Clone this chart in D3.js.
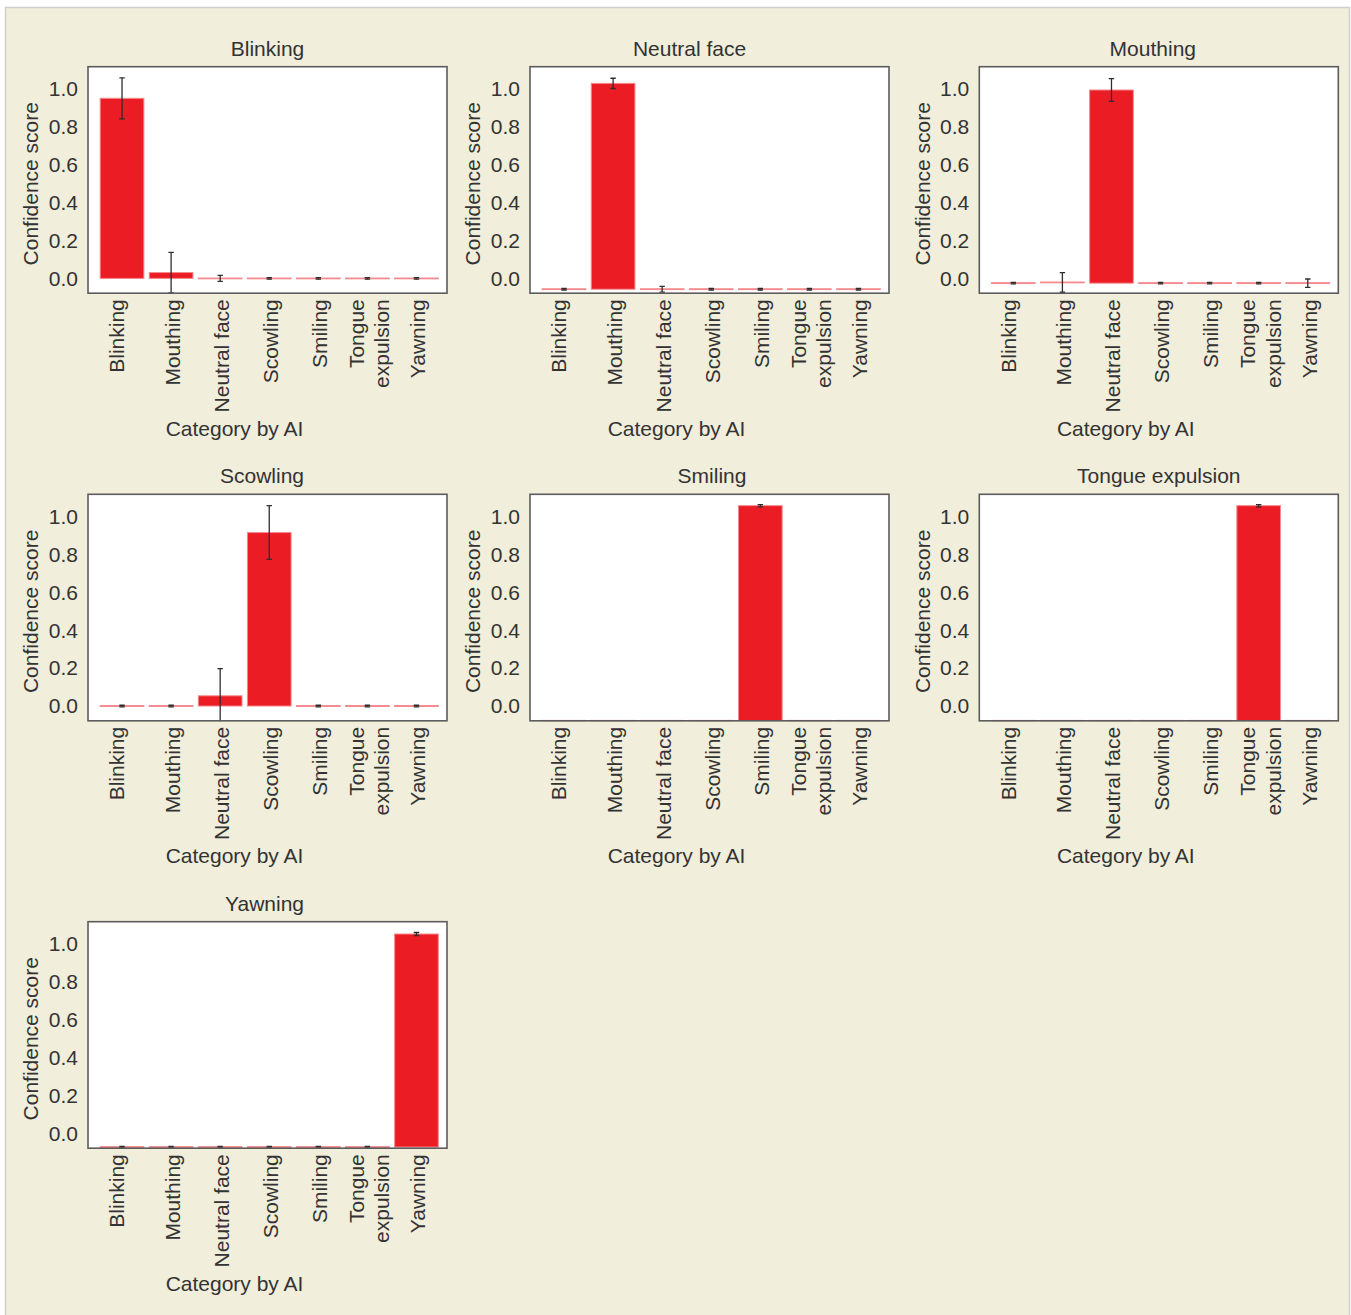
<!DOCTYPE html>
<html>
<head>
<meta charset="utf-8">
<script src="https://cdn.jsdelivr.net/npm/d3@7"></script>
<style>
  body { margin: 0; background: #ffffff; }
  svg { display: block; }
  text { font-family: "Liberation Sans", Arial, Helvetica, sans-serif; }
</style>
</head>
<body>
<svg id="chart" width="1351" height="1315"></svg>
<script>
// Categories predicted by the AI (x axis of every panel)
const categories = ["Blinking", "Mouthing", "Neutral face", "Scowling", "Smiling", "Tongue expulsion", "Yawning"];
const tickLabelLines = [["Blinking"], ["Mouthing"], ["Neutral face"], ["Scowling"], ["Smiling"], ["Tongue", "expulsion"], ["Yawning"]];

// True category of each panel
const panelTitles = ["Blinking", "Neutral face", "Mouthing", "Scowling", "Smiling", "Tongue expulsion", "Yawning"];

// Mean confidence score per AI category, one array per panel
const blinkingScores    = [0.951, 0.031, 0, 0, 0, 0, 0];
const neutralScores     = [-0.057, 1.030, -0.057, -0.057, -0.057, -0.057, -0.057];
const mouthingScores    = [-0.025, -0.021, 0.995, -0.025, -0.025, -0.025, -0.025];
const scowlingScores    = [0, 0, 0.054, 0.916, 0, 0, 0];
const smilingScores     = [-0.078, -0.078, -0.078, -0.078, 1.058, -0.078, -0.078];
const tongueScores      = [-0.078, -0.078, -0.078, -0.078, -0.078, 1.058, -0.078];
const yawningScores     = [-0.072, -0.072, -0.072, -0.072, -0.072, -0.072, 1.053];

// Error (± half-length) per bar; null = no error bar drawn
const blinkingErrors = [0.108, 0.107, 0.016, 0.004, 0.004, 0.004, 0.004];
const neutralErrors  = [0.004, 0.027, 0.015, 0.004, 0.004, 0.004, 0.004];
const mouthingErrors = [0.004, 0.052, 0.060, 0.004, 0.004, 0.004, 0.022];
const scowlingErrors = [0.004, 0.004, 0.143, 0.142, 0.004, 0.004, 0.004];
const smilingErrors  = [null, null, null, null, 0.006, null, null];
const tongueErrors   = [null, null, null, null, null, 0.006, null];
const yawningErrors  = [0.004, 0.004, 0.004, 0.004, 0.004, 0.004, 0.008];

// Value each panel's bars grow from
const baselines = [0, -0.057, -0.025, 0, -0.078, -0.078, -0.072];

const yTicks = [0, 0.2, 0.4, 0.6, 0.8, 1.0];
const yDomain = [-0.078, 1.118];

const panelScores = [blinkingScores, neutralScores, mouthingScores, scowlingScores, smilingScores, tongueScores, yawningScores];
const panelErrors = [blinkingErrors, neutralErrors, mouthingErrors, scowlingErrors, smilingErrors, tongueErrors, yawningErrors];

// ---- layout ----
const colX = [88, 530, 979.3];
const rowY = [66.7, 494.3, 921.7];
const plotW = 359;
const plotH = 226.5;
const FONT = 21;
const TEXT = "#333333";
const BAR = "#ec1c24";
const BAR_EDGE = "#f38a8d";
// horizontal shift of each panel title from the plot centre
const titleShift = { "Blinking": 0, "Neutral face": -20, "Mouthing": -6, "Scowling": -5.5, "Smiling": 2.5, "Tongue expulsion": 0, "Yawning": -3 };

const svg = d3.select("#chart");

// figure background
svg.append("rect")
  .attr("x", 5.5).attr("y", 7.5)
  .attr("width", 1344).attr("height", 1330)
  .attr("fill", "#f1eedb")
  .attr("stroke", "#cfcfcf").attr("stroke-width", 1.5);

panelTitles.forEach((title, i) => {
  const col = i % 3, row = Math.floor(i / 3);
  const x0 = colX[col], y0 = rowY[row];
  const scores = panelScores[i], errors = panelErrors[i], base = baselines[i];

  const g = svg.append("g").attr("transform", `translate(${x0},${y0})`);

  const x = d3.scaleBand()
    .domain(categories)
    .range([9.5, plotW - 6])
    .paddingInner(0.11)
    .paddingOuter(0.055);
  const y = d3.scaleLinear().domain(yDomain).range([plotH, 0]);

  const clipId = `clip-${i}`;
  g.append("clipPath").attr("id", clipId)
    .append("rect").attr("x", 0).attr("y", -1).attr("width", plotW).attr("height", plotH + 1.5);

  g.append("rect").attr("width", plotW).attr("height", plotH).attr("fill", "#ffffff");

  const plot = g.append("g").attr("clip-path", `url(#${clipId})`);

  // bars
  const rows = categories.map((c, k) => ({ c, v: scores[k], e: errors[k] }));
  plot.selectAll("rect.bar").data(rows).join("rect")
    .attr("class", "bar")
    .attr("x", d => x(d.c))
    .attr("width", x.bandwidth())
    .attr("y", d => Math.min(y(d.v), y(base)) - (Math.abs(y(d.v) - y(base)) < 0.8 ? 0.4 : 0))
    .attr("height", d => Math.max(Math.abs(y(base) - y(d.v)), 0.8))
    .attr("fill", BAR)
    .attr("stroke", BAR_EDGE)
    .attr("stroke-width", 1);

  // error bars
  const eg = plot.selectAll("g.err").data(rows.filter(d => d.e != null)).join("g")
    .attr("class", "err")
    .attr("transform", d => `translate(${x(d.c) + x.bandwidth() / 2},0)`)
    .attr("stroke", "#2e2e2e")
    .attr("stroke-width", 1.3);
  eg.append("line")
    .attr("y1", d => y(d.v - d.e)).attr("y2", d => y(d.v + d.e));
  eg.append("line")
    .attr("x1", -2.7).attr("x2", 2.7)
    .attr("y1", d => y(d.v + d.e)).attr("y2", d => y(d.v + d.e));
  eg.append("line")
    .attr("x1", -2.7).attr("x2", 2.7)
    .attr("y1", d => y(d.v - d.e)).attr("y2", d => y(d.v - d.e));

  // frame
  g.append("rect").attr("width", plotW).attr("height", plotH)
    .attr("fill", "none").attr("stroke", "#5c5c5c").attr("stroke-width", 1.6);

  // y axis
  const ya = g.append("g")
    .call(d3.axisLeft(y).tickValues(yTicks).tickFormat(d3.format(".1f")).tickSize(0).tickPadding(10));
  ya.select(".domain").remove();
  ya.attr("font-size", FONT).attr("font-family", null);
  ya.selectAll("text").attr("fill", TEXT);

  // x axis with rotated labels
  const xa = g.append("g").attr("transform", `translate(0,${plotH})`)
    .call(d3.axisBottom(x).tickSize(0).tickFormat(""));
  xa.select(".domain").remove();
  xa.selectAll(".tick text").remove();
  xa.selectAll(".tick").each(function (d) {
    const lines = tickLabelLines[categories.indexOf(d)];
    const nudge = d === "Blinking" ? -5 : 1.5;
    const t = d3.select(this).append("text")
      .attr("transform", `translate(${nudge},6) rotate(-90)`)
      .attr("text-anchor", "end")
      .attr("font-size", FONT)
      .attr("fill", TEXT);
    lines.forEach((ln, j) => {
      t.append("tspan")
        .attr("x", 0)
        .attr("dy", j === 0 ? `${0.35 - (lines.length - 1) * 0.6}em` : "1.22em")
        .text(ln);
    });
  });

  // panel title
  g.append("text")
    .attr("x", plotW / 2 + (titleShift[title] || 0)).attr("y", -11)
    .attr("text-anchor", "middle")
    .attr("font-size", FONT).attr("fill", TEXT)
    .text(title);

  // y axis title
  g.append("text")
    .attr("transform", `translate(-57,${(y(0) + y(1)) / 2}) rotate(-90)`)
    .attr("text-anchor", "middle")
    .attr("dy", "0.35em")
    .attr("font-size", FONT).attr("fill", TEXT)
    .text("Confidence score");

  // x axis title
  g.append("text")
    .attr("x", plotW / 2 - 33).attr("y", plotH + 142.5)
    .attr("text-anchor", "middle")
    .attr("font-size", FONT).attr("fill", TEXT)
    .text("Category by AI");
});
</script>
</body>
</html>
